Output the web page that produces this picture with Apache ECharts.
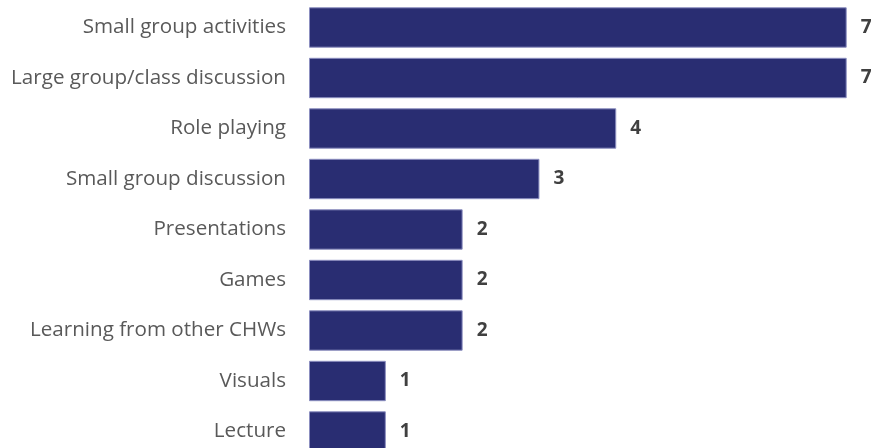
<!DOCTYPE html>
<html><head><meta charset="utf-8">
<script src="https://cdn.jsdelivr.net/npm/echarts@6/dist/echarts.min.js"></script>
<style>html,body{margin:0;padding:0;background:#fff}#c{width:874px;height:448px}</style>
</head><body><div id="c"></div>
<script>
const categories = ["Small group activities","Large group/class discussion","Role playing","Small group discussion","Presentations","Games","Learning from other CHWs","Visuals","Lecture"];
const values = [7,7,4,3,2,2,2,1,1];
const chart = echarts.init(document.getElementById('c'), null, {renderer:'canvas'});
chart.setOption({
  animation:false,
  grid:{left:309, top:2.25, width:537.7, height:454.5, containLabel:false, outerBoundsMode:'none'},
  xAxis:{type:'value', min:0, max:7, show:false},
  yAxis:{type:'category', data:categories, inverse:true,
    axisLine:{show:false}, axisTick:{show:false},
    axisLabel:{margin:23, color:'#595959', fontFamily:'Open Sans', fontSize:20.6, padding:[8,0,0,0]}},
  series:[{type:'bar', data:values, barWidth:'80%',
    itemStyle:{color:'#292d72', borderColor:'#8c8fc0', borderWidth:1},
    label:{show:true, position:'right', distance:14, color:'#404040', fontFamily:'Open Sans', fontWeight:'bold', fontSize:19, padding:[4,0,0,0]}}]
});
</script></body></html>
